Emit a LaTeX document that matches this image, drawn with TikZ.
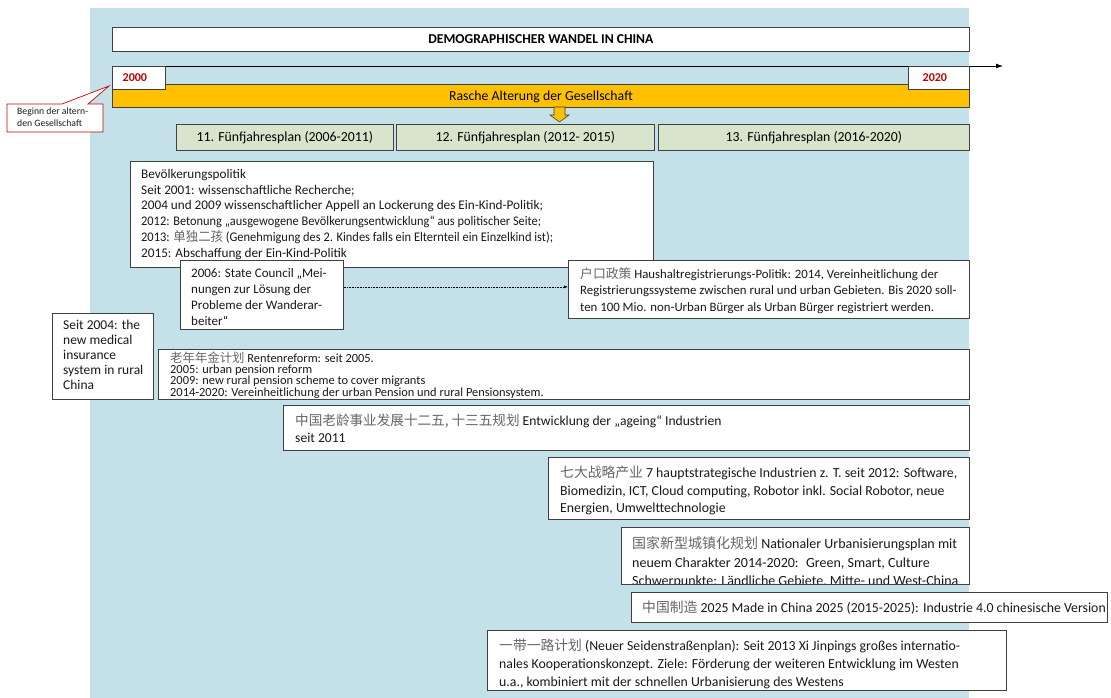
\documentclass[tikz,border=0pt]{standalone}
\usepackage{fontspec}
\setmainfont{Carlito}
\newfontfamily\cjk{Noto Sans CJK SC}
\usetikzlibrary{arrows.meta}
\definecolor{bgblue}{RGB}{196,224,232}
\definecolor{edge}{RGB}{64,64,64}
\definecolor{amber}{RGB}{255,192,0}
\definecolor{plangreen}{RGB}{216,228,204}
\definecolor{yearred}{RGB}{192,0,0}
\newcommand\zh[1]{{\cjk\color{black!60}#1}}
\newcommand\fs[2]{\fontsize{#1}{#2}\selectfont}
% set a line to a given width, keeping its height
\newcommand\linew[2]{\resizebox{#1}{\height}{#2}}
\tikzset{
  bx/.style={draw=edge, fill=white, line width=0.8pt, inner sep=0, anchor=north west},
  planbox/.style={bx, fill=plangreen},
  txt/.style={anchor=north west, inner sep=0, align=left, text=black!90},
}
\begin{document}
\begin{tikzpicture}[x=1pt,y=-1pt]
\useasboundingbox (0,0) rectangle (1111,698);
% backdrop
\fill[bgblue] (90,8) rectangle (969,698);

% title
\node[bx, minimum width=857pt, minimum height=24pt] (title) at (112,27) {};
\node[font=\bfseries\fs{13.6}{15}] (titletext) at (title.center) {DEMOGRAPHISCHER WANDEL IN CHINA};

% time axis
\coordinate (axisstart) at (112,66);
\coordinate (axisend) at (1003,66);
\draw[line width=0.8pt, -{Latex[length=7pt,width=5pt]}] (axisstart) -- (axisend);
\node[bx, fill=amber, minimum width=857pt, minimum height=23pt] (ageing) at (112,84) {};
\node[font=\fs{13.8}{15}] (ageingtext) at ([yshift=-1pt]ageing.center) {Rasche Alterung der Gesellschaft};
\node[bx, minimum width=53pt, minimum height=23pt] (y2000) at (112,66) {};
\node[font=\bfseries\fs{12}{13}, text=yearred] (y2000t) at ([xshift=-4pt,yshift=0.5pt]y2000.center) {2000};
\node[bx, minimum width=61pt, minimum height=23pt] (y2020) at (908,66) {};
\node[font=\bfseries\fs{12}{13}, text=yearred] (y2020t) at ([xshift=-4pt,yshift=0.5pt]y2020.center) {2020};

% small block arrow under the ageing bar
\draw[edge, fill=amber, line width=0.6pt] (554,107) -- (565,107) -- (565,115) -- (569,115)
  -- (559.5,122) -- (550,115) -- (554,115) -- cycle;

% callout
\draw[draw=red!80!black, fill=white, line width=0.7pt]
  (7,104) -- (62,104) -- (109,86) -- (88,104) -- (103,104) -- (103,132) -- (7,132) -- cycle;
\node[txt, font=\fs{9.7}{12.5}] (callout) at (17,107.5)
  {Beginn der altern-\\den Gesellschaft};

% five-year plans
\node[planbox, minimum width=217pt, minimum height=26pt] (plan11) at (176,124) {};
\node[font=\fs{13.8}{15}] (plan11t) at (plan11.center) {11. Fünfjahresplan (2006-2011)};
\node[planbox, minimum width=258pt, minimum height=26pt] (plan12) at (396,124) {};
\node[font=\fs{13.8}{15}] (plan12t) at (plan12.center) {12. Fünfjahresplan (2012- 2015)};
\node[planbox, minimum width=311pt, minimum height=26pt] (plan13) at (658,124) {};
\node[font=\fs{13.8}{15}] (plan13t) at (plan13.center) {13. Fünfjahresplan (2016-2020)};

% population policy
\node[bx, minimum width=523pt, minimum height=106pt] (pop) at (130,161) {};
\node[txt, font=\fs{13.2}{15.8}] (popt) at ([xshift=11pt,yshift=-8pt]pop.north west)
  {Bevölkerungspolitik\\
   Seit 2001: wissenschaftliche Recherche;\\
   2004 und 2009 wissenschaftlicher Appell an Lockerung des Ein-Kind-Politik;\\
   \linew{400pt}{2012: Betonung „ausgewogene Bevölkerungsentwicklung“ aus politischer Seite;}\\
   \linew{412pt}{2013: \zh{单独二孩} (Genehmigung des 2. Kindes falls ein Elternteil ein Einzelkind ist);}\\
   2015: Abschaffung der Ein-Kind-Politik};

% migrant workers
\node[bx, minimum width=163pt, minimum height=69pt] (migr) at (180,260) {};
\node[txt, font=\fs{13}{16}] (migrt) at ([xshift=11pt,yshift=-8.5pt]migr.north west)
  {2006: State Council „Mei-\\nungen zur Lösung der\\Probleme der Wanderar-\\beiter“};

% household registration
\node[bx, minimum width=401pt, minimum height=58pt] (hukou) at (568,260) {};
\node[txt, font=\fs{12.8}{16.5}] (hukout) at ([xshift=12pt,yshift=-7pt]hukou.north west)
  {\zh{户口政策} Haushaltregistrierungs-Politik: 2014, Vereinheitlichung der\\
   Registrierungssysteme zwischen rural und urban Gebieten. Bis 2020 soll-\\
   ten 100 Mio. non-Urban Bürger als Urban Bürger registriert werden.};
\draw[densely dotted, line width=0.6pt, -{Latex[length=4pt,width=3pt]}]
  ([yshift=8pt]migr.east) -- ([yshift=8pt]migr.east -| hukou.west);

% rural medical insurance
\node[bx, minimum width=101pt, minimum height=86pt] (medic) at (52,313) {};
\node[txt, font=\fs{13.5}{15}] (medict) at ([xshift=11pt,yshift=-7pt]medic.north west)
  {Seit 2004: the\\new medical\\insurance\\system in rural\\China};

% pension reform
\node[bx, minimum width=811pt, minimum height=50pt] (pens) at (158,349) {};
\node[txt, font=\fs{12.4}{10.3}] (penst) at ([xshift=12pt,yshift=-3pt]pens.north west)
  {\zh{老年年金计划} Rentenreform: seit 2005.\\
   2005: urban pension reform\\
   2009: new rural pension scheme to cover migrants\\
   2014-2020: Vereinheitlichung der urban Pension und rural Pensionsystem.};

% ageing industries
\node[bx, minimum width=686pt, minimum height=45pt] (aind) at (283,405) {};
\node[txt, font=\fs{13.6}{17}] (aindt) at ([xshift=12pt,yshift=-9pt]aind.north west)
  {\zh{中国老龄事业发展十二五, 十三五规划} Entwicklung der „ageing“ Industrien\\seit 2011};

% strategic industries
\node[bx, minimum width=421pt, minimum height=62pt] (seven) at (548,457) {};
\node[txt, font=\fs{13.8}{17.5}] (sevent) at ([xshift=12pt,yshift=-9pt]seven.north west)
  {\zh{七大战略产业} 7 hauptstrategische Industrien z. T. seit 2012: Software,\\
   Biomedizin, ICT, Cloud computing, Robotor inkl. Social Robotor, neue\\
   Energien, Umwelttechnologie};

% urbanisation plan, its last line cut off by the frame
\node[bx, minimum width=348pt, minimum height=57pt] (urban) at (621,527) {};
\begin{scope}
  \clip (621,527) rectangle (969,583);
  \node[txt, font=\fs{14}{18.5}] (urbant) at ([xshift=11pt,yshift=-9.5pt]urban.north west)
    {\zh{国家新型城镇化规划} Nationaler Urbanisierungsplan mit\\
     neuem Charakter 2014-2020:~ Green, Smart, Culture\\
     Schwerpunkte: Ländliche Gebiete, Mitte- und West-China};
\end{scope}
\draw[edge, line width=0.8pt] (urban.north west) rectangle (urban.south east);

% made in china
\node[bx, minimum width=476pt, minimum height=30pt] (made) at (631,592) {};
\node[txt, anchor=west, font=\fs{13.8}{16}] (madet) at ([xshift=11pt]made.west)
  {\zh{中国制造} 2025 Made in China 2025 (2015-2025): Industrie 4.0 chinesische Version};

% belt and road
\node[bx, minimum width=519pt, minimum height=60pt] (belt) at (487,630) {};
\node[txt, font=\fs{13.8}{18}] (beltt) at ([xshift=12pt,yshift=-9pt]belt.north west)
  {\zh{一带一路计划} (Neuer Seidenstraßenplan): Seit 2013 Xi Jinpings großes internatio-\\
   nales Kooperationskonzept. Ziele: Förderung der weiteren Entwicklung im Westen\\
   u.a., kombiniert mit der schnellen Urbanisierung des Westens};
\end{tikzpicture}
\end{document}
